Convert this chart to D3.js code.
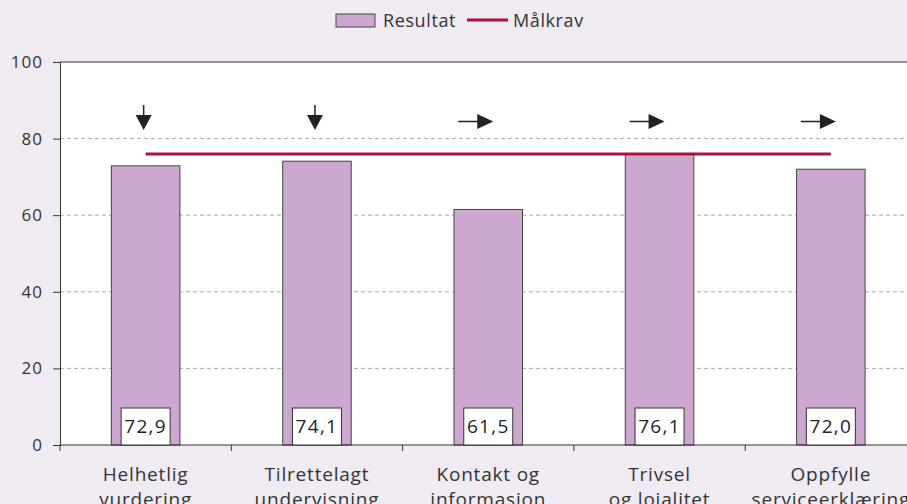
<!DOCTYPE html>
<html>
<head>
<meta charset="utf-8">
<script src="https://cdn.jsdelivr.net/npm/d3@7"></script>
<style>
  body { margin: 0; background: #f0ebf3; }
  svg { display: block; font-family: "Open Sans", "Noto Sans", sans-serif; }
</style>
</head>
<body>
<script>
// data
const categories = [
  ["Helhetlig", "vurdering"],
  ["Tilrettelagt", "undervisning"],
  ["Kontakt og", "informasjon"],
  ["Trivsel", "og lojalitet"],
  ["Oppfylle", "serviceerklæring"]
];
const resultat = [72.9, 74.1, 61.5, 76.1, 72.0];
const maalkrav = 76;
const trends = ["down", "down", "right", "right", "right"];
const yTicks = [0, 20, 40, 60, 80, 100];

const width = 907, height = 504;
const m = {left: 60, top: 62, right: 916.5, bottom: 445};

const svg = d3.select('body')
  .append('svg')
  .attr('width', width)
  .attr('height', height);

const x = d3.scaleBand()
  .domain(d3.range(categories.length))
  .range([m.left, m.right])
  .paddingInner(0.6)
  .paddingOuter(0.3);

const y = d3.scaleLinear()
  .domain([0, 100])
  .range([m.bottom, m.top]);

// plot background
svg.append('rect')
  .attr('x', m.left)
  .attr('y', m.top)
  .attr('width', m.right - m.left)
  .attr('height', m.bottom - m.top)
  .attr('fill', '#fff');

// grid
svg.selectAll('.grid')
  .data(yTicks.filter(d => d > 0 && d < 100))
  .enter()
  .append('line')
  .attr('x1', m.left)
  .attr('x2', m.right)
  .attr('y1', d => y(d))
  .attr('y2', d => y(d))
  .attr('stroke', '#aaa')
  .attr('stroke-dasharray', '4,3');

// top border
svg.append('line')
  .attr('x1', m.left).attr('x2', m.right)
  .attr('y1', y(100)).attr('y2', y(100))
  .attr('stroke', '#333');

// y axis
const yAxis = svg.append('g')
  .attr('transform', `translate(${m.left},0)`)
  .call(d3.axisLeft(y).tickValues(yTicks).tickSize(7).tickPadding(10));
yAxis.select('.domain').attr('stroke', '#333');
yAxis.selectAll('.tick line').attr('stroke', '#333');
yAxis.selectAll('text')
  .attr('font-size', 17)
  .attr('letter-spacing', 1)
  .attr('font-family', '"Open Sans", sans-serif')
  .attr('fill', '#333');

// bars
svg.selectAll('.bar')
  .data(resultat)
  .enter()
  .append('rect')
  .attr('x', (d, i) => x(i))
  .attr('y', d => y(d))
  .attr('width', x.bandwidth())
  .attr('height', d => y(0) - y(d))
  .attr('fill', '#cca8d0')
  .attr('stroke', '#444')
  .attr('stroke-width', 1);

// x axis
const step = x.step();
svg.append('line')
  .attr('x1', m.left).attr('x2', m.right)
  .attr('y1', y(0)).attr('y2', y(0))
  .attr('stroke', '#333');
svg.selectAll('.xtick')
  .data(d3.range(categories.length + 1))
  .enter()
  .append('line')
  .attr('x1', i => m.left + i * step)
  .attr('x2', i => m.left + i * step)
  .attr('y1', y(0))
  .attr('y2', y(0) + 6)
  .attr('stroke', '#333');

// category labels
const cat = svg.selectAll('.cat')
  .data(categories)
  .enter()
  .append('text')
  .attr('text-anchor', 'middle')
  .attr('font-size', 19)
  .attr('letter-spacing', 0.8)
  .attr('fill', '#333');
cat.selectAll('tspan')
  .data((d, i) => d.map(t => ({t, i})))
  .enter()
  .append('tspan')
  .attr('x', d => x(d.i) + x.bandwidth() / 2)
  .attr('y', (d, j) => 481 + j * 25)
  .text(d => d.t);

// value boxes
const bw = 49, bh = 37;
svg.selectAll('.vbox')
  .data(resultat)
  .enter()
  .append('rect')
  .attr('x', (d, i) => x(i) + x.bandwidth() / 2 - bw / 2)
  .attr('y', y(0) - bh)
  .attr('width', bw)
  .attr('height', bh)
  .attr('fill', '#fff')
  .attr('stroke', '#333');
svg.selectAll('.vtext')
  .data(resultat)
  .enter()
  .append('text')
  .attr('x', (d, i) => x(i) + x.bandwidth() / 2)
  .attr('y', y(0) - 12)
  .attr('text-anchor', 'middle')
  .attr('font-size', 19)
  .attr('letter-spacing', 1.3)
  .attr('fill', '#222')
  .text(d => d.toFixed(1).replace('.', ','));

// target line
svg.append('line')
  .attr('x1', x(0) + x.bandwidth() / 2)
  .attr('x2', x(categories.length - 1) + x.bandwidth() / 2)
  .attr('y1', y(maalkrav))
  .attr('y2', y(maalkrav))
  .attr('stroke', '#b0103c')
  .attr('stroke-width', 3);

// trend arrows
trends.forEach((t, i) => {
  const cx = x(i) + x.bandwidth() / 2;
  const g = svg.append('g');
  if (t === 'down') {
    const c = cx - 2;
    g.append('line')
      .attr('x1', c).attr('x2', c)
      .attr('y1', 105).attr('y2', 116)
      .attr('stroke', '#222').attr('stroke-width', 1.5);
    g.append('path')
      .attr('d', `M${c - 8},115 L${c + 8},115 L${c},130 Z`)
      .attr('fill', '#222');
  } else {
    const c = cx - 13;
    g.append('line')
      .attr('x1', c - 17).attr('x2', c + 3)
      .attr('y1', 121.5).attr('y2', 121.5)
      .attr('stroke', '#222').attr('stroke-width', 1.5);
    g.append('path')
      .attr('d', `M${c + 2},114 L${c + 2},129 L${c + 18},121.5 Z`)
      .attr('fill', '#222');
  }
});

// legend
const lg = svg.append('g');
lg.append('rect')
  .attr('x', 336).attr('y', 14)
  .attr('width', 39).attr('height', 13)
  .attr('fill', '#cca8d0')
  .attr('stroke', '#444');
lg.append('text')
  .attr('x', 383).attr('y', 27)
  .attr('font-size', 18)
  .attr('letter-spacing', 0.6)
  .attr('fill', '#333')
  .text('Resultat');
lg.append('line')
  .attr('x1', 467).attr('x2', 508)
  .attr('y1', 20).attr('y2', 20)
  .attr('stroke', '#b0103c')
  .attr('stroke-width', 3);
lg.append('text')
  .attr('x', 513).attr('y', 27)
  .attr('font-size', 18)
  .attr('letter-spacing', 0.6)
  .attr('fill', '#333')
  .text('Målkrav');
</script>
</body>
</html>
